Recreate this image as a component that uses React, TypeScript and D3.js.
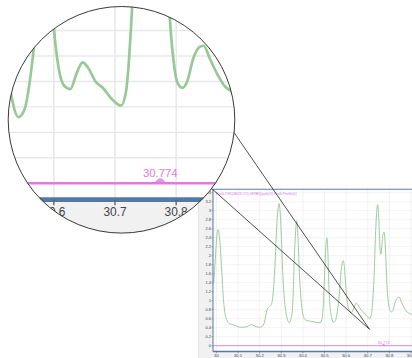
import * as d3 from "d3";

// retention / mass axis (x) and signal (y)
const traceX = [
  29.987, 29.995, 30.002, 30.008, 30.015, 30.024, 30.032, 30.039, 30.05, 30.0625,
  30.075, 30.086, 30.1, 30.12, 30.14, 30.155, 30.163, 30.175, 30.186, 30.2,
  30.212, 30.222, 30.232, 30.242, 30.252, 30.26, 30.27, 30.28, 30.29, 30.298,
  30.306, 30.315, 30.322, 30.33, 30.337, 30.345, 30.353, 30.36, 30.366, 30.371,
  30.377, 30.383, 30.391, 30.399, 30.407, 30.418, 30.44, 30.46, 30.48, 30.488,
  30.495, 30.502, 30.507, 30.511, 30.515, 30.52, 30.526, 30.533, 30.542, 30.552,
  30.562, 30.569, 30.576, 30.583, 30.587, 30.593, 30.6, 30.608, 30.618, 30.627,
  30.637, 30.647, 30.657, 30.668, 30.68, 30.695, 30.71, 30.718, 30.724, 30.73,
  30.736, 30.742, 30.746, 30.751, 30.757, 30.761, 30.766, 30.771, 30.776, 30.782,
  30.789, 30.796, 30.803, 30.81, 30.818, 30.828, 30.838, 30.845, 30.855, 30.867,
  30.88, 30.892, 30.905,
];
const traceY = [
  1.4, 1.95, 2.45, 2.58, 2.35, 1.7, 1.05, 0.73, 0.55, 0.48,
  0.47, 0.45, 0.42, 0.41, 0.42, 0.46, 0.47, 0.44, 0.42, 0.41,
  0.43, 0.52, 0.76, 0.86, 0.9, 1.05, 1.7, 2.75, 3.16, 2.7,
  1.7, 1.0, 0.73, 0.56, 0.51, 0.6, 0.9, 1.9, 2.5, 2.78,
  2.45, 1.7, 1.05, 0.73, 0.6, 0.56, 0.54, 0.52, 0.51, 0.58,
  0.95, 1.75, 2.25, 2.4, 2.15, 1.35, 0.85, 0.63, 0.52, 0.58,
  0.85, 1.15, 1.62, 1.85, 1.89, 1.7, 1.22, 0.9, 0.76, 0.74,
  0.86, 0.95, 0.9, 0.8, 0.75, 0.66, 0.61, 0.72, 1.05, 1.6,
  2.45, 3.0, 3.13, 2.85, 2.15, 2.03, 2.25, 2.48, 2.52, 2.15,
  1.35, 0.95, 0.78, 0.75, 0.8, 0.98, 1.07, 1.08, 0.98, 0.86,
  0.76, 0.72, 0.7,
];

const xTicks = [30, 30.1, 30.2, 30.3, 30.4, 30.5, 30.6, 30.7, 30.8, 30.9];
const yTicks = [0, 0.2, 0.4, 0.6, 0.8, 1, 1.2, 1.4, 1.6, 1.8, 2, 2.2, 2.4, 2.6, 2.8, 3, 3.2, 3.4];
const markerX = 30.774;
const markerLabel = "30.774";
const title = "Peak CH1(4E23.CO)-4E9B0(ppb)(0) Peak Profile(s)";

const x = d3.scaleLinear().domain([29.984, 30.905]).range([213, 412]);
const y = d3.scaleLinear().domain([0, 3.46]).range([345.7, 190]);

const blue = "#5379a6";
const pink = "#e07ae0";
const green = "#98c898";

const Chart = () => {
  const line = d3
    .line<number>()
    .x((_, i) => x(traceX[i]))
    .y((d) => y(d))
    .curve(d3.curveMonotoneX);

  const markerPath = d3
    .area<number>()
    .x((d) => x(d))
    .y0(y(0))
    .y1((d) => y(0) - 1.8 * Math.exp(-Math.pow((d - markerX) / 0.008, 2)))
    .curve(d3.curveBasis)(d3.range(markerX - 0.022, markerX + 0.022, 0.002));

  const bottom = y(0) + 5.8;
  return (
    <g fontFamily="Liberation Sans, Arial, sans-serif">
      <rect x={198.5} y={189} width={230} height={190} fill="#f1f1f1" stroke="#d0d0d0" strokeWidth={0.5} />
      <rect x={213} y={189} width={215} height={bottom - 189} fill="#fff" />
      {xTicks.map((t) => (
        <line key={"gx" + t} x1={x(t)} x2={x(t)} y1={189} y2={bottom} stroke="#e3e3e3" strokeWidth={0.45} />
      ))}
      {yTicks.map((t) => (
        <line key={"gy" + t} x1={213} x2={428} y1={y(t)} y2={y(t)} stroke="#e8e8e8" strokeWidth={0.5} />
      ))}
      <path d={line(traceY) || ""} fill="none" stroke={green} strokeWidth={0.95} />
      <line x1={213} x2={428} y1={y(0)} y2={y(0)} stroke={pink} strokeWidth={0.9} />
      <path d={markerPath || ""} fill={pink} opacity={0.8} />
      <text x={x(markerX)} y={y(0) - 2.2} fontSize={4} fill={pink} textAnchor="middle">
        {markerLabel}
      </text>
      <text x={216} y={194.6} fontSize={3.5} fill={pink}>
        {title}
      </text>
      <line x1={213} x2={428} y1={189.3} y2={189.3} stroke={blue} strokeWidth={0.9} />
      <line x1={213} x2={213} y1={189} y2={bottom} stroke={blue} strokeWidth={1} />
      <line x1={213} x2={428} y1={bottom} y2={bottom} stroke={blue} strokeWidth={1.7} />
      {xTicks.map((t) => (
        <g key={"tx" + t}>
          <line x1={x(t)} x2={x(t)} y1={bottom} y2={bottom + 2} stroke="#666" strokeWidth={0.5} />
          <text x={x(t)} y={bottom + 5.6} fontSize={4.2} fill="#444" textAnchor="middle">
            {String(t)}
          </text>
        </g>
      ))}
      {yTicks.map((t) => (
        <g key={"ty" + t}>
          <line x1={211.5} x2={213} y1={y(t)} y2={y(t)} stroke="#666" strokeWidth={0.5} />
          <text x={211} y={y(t) + 1.4} fontSize={4} fill="#444" textAnchor="end">
            {d3.format("~g")(t)}
          </text>
        </g>
      ))}
    </g>
  );
};

export default function App() {
  const cx = 121.5;
  const cy = 119.8;
  const r = 113.3;
  const k = 2.83;
  // anchor: 30.7 / 0 of the main chart lands at this point inside the lens
  const ax = x(30.7);
  const ay = y(0);
  const tx = 115 - k * ax;
  const ty = 183.3 - k * ay;

  const focus: [number, number] = [369.5, 329.3];
  const through: [number, number][] = [
    [266.7, 180],
    [213.3, 190],
  ];
  const hit = ([qx, qy]: [number, number]) => {
    const [px, py] = focus;
    const dx = qx - px;
    const dy = qy - py;
    const fx = px - cx;
    const fy = py - cy;
    const a = dx * dx + dy * dy;
    const b = 2 * (fx * dx + fy * dy);
    const c = fx * fx + fy * fy - r * r;
    const t = (-b - Math.sqrt(b * b - 4 * a * c)) / (2 * a);
    return [px + t * dx, py + t * dy];
  };

  return (
    <svg width={412} height={358} style={{ position: "absolute", left: 0, top: 0, background: "#fff" }}>
      <defs>
        <clipPath id="lens">
          <circle cx={cx} cy={cy} r={r} />
        </clipPath>
      </defs>
      <Chart />
      {through.map((q, i) => {
        const [ex, ey] = hit(q);
        return <line key={i} x1={focus[0]} y1={focus[1]} x2={ex} y2={ey} stroke="#222" strokeWidth={0.8} />;
      })}
      <g clipPath="url(#lens)">
        <circle cx={cx} cy={cy} r={r} fill="#fff" />
        <g transform={`translate(${tx},${ty}) scale(${k})`}>
          <Chart />
        </g>
      </g>
      <circle cx={cx} cy={cy} r={r} fill="none" stroke="#222" strokeWidth={0.9} />
    </svg>
  );
}
